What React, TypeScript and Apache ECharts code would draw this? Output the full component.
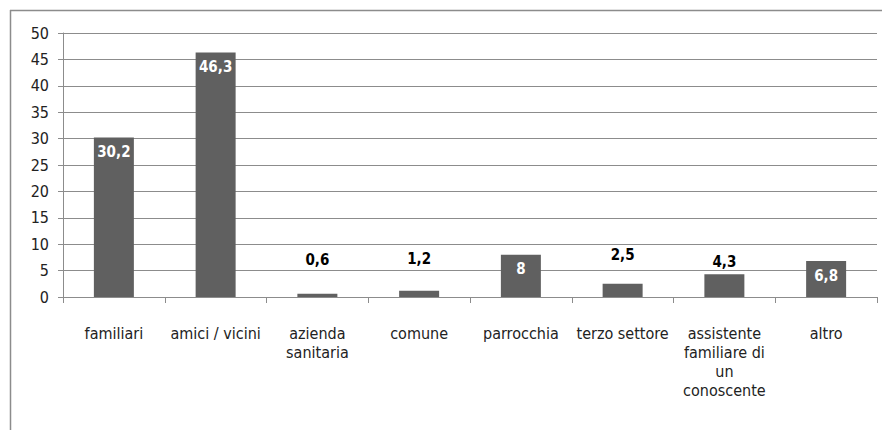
import React, { useEffect, useRef } from "react";
import * as echarts from "echarts";

const categories = [
  "familiari",
  "amici / vicini",
  "azienda\nsanitaria",
  "comune",
  "parrocchia",
  "terzo settore",
  "assistente\nfamiliare di\nun\nconoscente",
  "altro",
];
const values = [30.2, 46.3, 0.6, 1.2, 8, 2.5, 4.3, 6.8];
// label placement: true = inside top (white), false = above bar (black)
const labelInside = [true, true, false, false, true, false, false, true];
const labelDistance = [0, 0, 26, 24, 0, 21, 5, 0];

const FONT = "'Liberation Sans Narrow', 'DejaVu Sans Condensed', sans-serif";

export default function App() {
  const ref = useRef<HTMLDivElement>(null);
  useEffect(() => {
    if (!ref.current) return;
    const chart = echarts.init(ref.current, undefined, { renderer: "svg" });
    const fmt = (v: number) => String(v).replace(".", ",");
    chart.setOption({
      animation: false,
      backgroundColor: "#ffffff",
      grid: { left: 63, right: 5, top: 33, bottom: 133, containLabel: false },
      xAxis: {
        type: "category",
        data: categories,
        axisLine: { show: true, lineStyle: { color: "#8c8c8c", width: 1 } },
        axisTick: { show: true, length: 6, lineStyle: { color: "#8c8c8c" } },
        axisLabel: {
          color: "#222",
          fontFamily: FONT,
          fontSize: 16,
          lineHeight: 19,
          margin: 27,
          interval: 0,
        },
      },
      yAxis: {
        type: "value",
        min: 0,
        max: 50,
        interval: 5,
        axisLine: { show: true, lineStyle: { color: "#8c8c8c", width: 1 } },
        axisTick: { show: true, length: 5, lineStyle: { color: "#8c8c8c" } },
        axisLabel: { color: "#222", fontFamily: FONT, fontSize: 16, margin: 14 },
        splitLine: { show: true, lineStyle: { color: "#8c8c8c", width: 1 } },
      },
      series: [
        {
          type: "bar",
          barWidth: 40,
          itemStyle: { color: "#606060" },
          data: values.map((v, i) => ({
            value: v,
            label: labelInside[i]
              ? {
                  show: true,
                  position: "insideTop",
                  distance: 7,
                  color: "#ffffff",
                }
              : {
                  show: true,
                  position: "top",
                  distance: labelDistance[i],
                  color: "#000000",
                },
          })),
          label: {
            show: true,
            fontFamily: FONT,
            fontSize: 15,
            fontWeight: "bold",
            formatter: (p: any) => fmt(p.value),
          },
        },
      ],
      graphic: [
        {
          type: "line",
          shape: { x1: 10, y1: 10.5, x2: 882, y2: 10.5 },
          style: { stroke: "#8c8c8c", lineWidth: 1.5 },
        },
        {
          type: "line",
          shape: { x1: 10.5, y1: 10, x2: 10.5, y2: 430 },
          style: { stroke: "#8c8c8c", lineWidth: 1.5 },
        },
      ],
    });
    return () => chart.dispose();
  }, []);
  return (
    <div
      ref={ref}
      style={{ position: "fixed", left: 0, top: 0, width: 882, height: 430 }}
    />
  );
}
